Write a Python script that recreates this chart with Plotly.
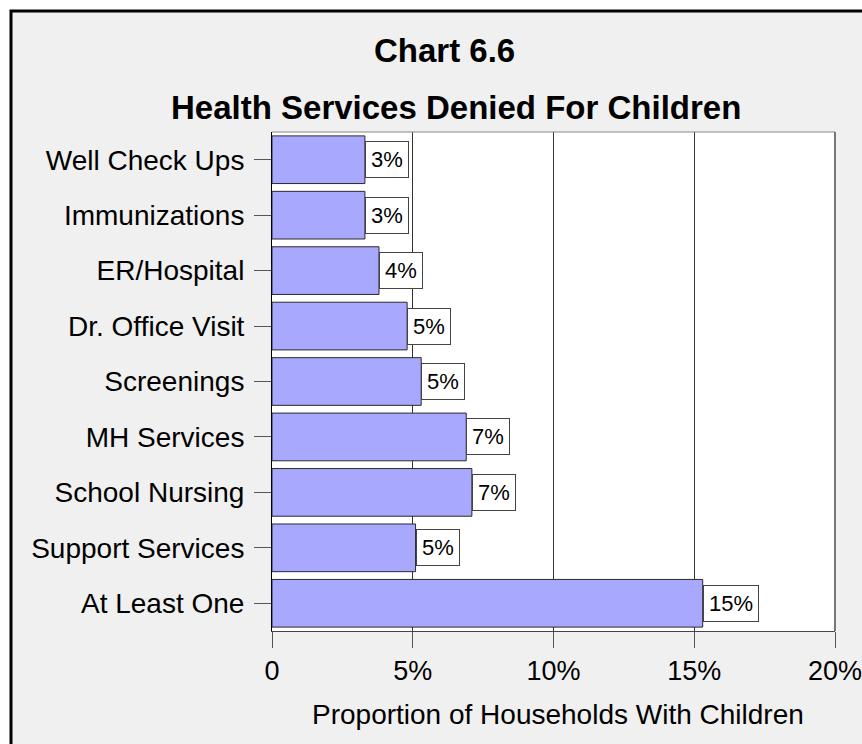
import plotly.graph_objects as go

# Survey results: share of households with children denied each health service (%)
categories = [
    "Well Check Ups",
    "Immunizations",
    "ER/Hospital",
    "Dr. Office Visit",
    "Screenings",
    "MH Services",
    "School Nursing",
    "Support Services",
    "At Least One",
]
percent_denied = [3.3, 3.3, 3.8, 4.8, 5.3, 6.9, 7.1, 5.1, 15.3]

x_tick_values = [0, 5, 10, 15, 20]
x_tick_labels = ["0", "5%", "10%", "15%", "20%"]

# Figure geometry (pixels)
W, H = 862, 744
ML, MR, MT, MB = 272, 27, 132, 113
PW, PH = W - ML - MR, H - MT - MB


def px_x(p):
    return (p - ML) / PW


def px_y(p):
    return (H - MB - p) / PH


FONT = "Arial, Liberation Sans, sans-serif"

fig = go.Figure()
fig.add_trace(
    go.Bar(
        x=percent_denied,
        y=categories,
        orientation="h",
        width=0.86,
        marker=dict(color="#a8a8ff", line=dict(color="#2a2a2a", width=1)),
        hoverinfo="skip",
    )
)

# Boxed value labels placed at the end of each bar
annotations = []
for cat, val in zip(categories, percent_denied):
    annotations.append(
        dict(
            x=val,
            y=cat,
            xref="x",
            yref="y",
            text=f"{round(val)}%",
            showarrow=False,
            xanchor="left",
            yanchor="middle",
            font=dict(family=FONT, size=22, color="#000"),
            bgcolor="#ffffff",
            bordercolor="#444444",
            borderwidth=1,
            borderpad=5,
        )
    )

# Titles
annotations.append(
    dict(
        x=px_x(444), y=px_y(50), xref="paper", yref="paper",
        text="<b>Chart 6.6</b>", showarrow=False,
        xanchor="center", yanchor="middle",
        font=dict(family=FONT, size=33, color="#000"),
    )
)
annotations.append(
    dict(
        x=px_x(456), y=px_y(107), xref="paper", yref="paper",
        text="<b>Health Services Denied For Children</b>", showarrow=False,
        xanchor="center", yanchor="middle",
        font=dict(family=FONT, size=33, color="#000"),
    )
)
annotations.append(
    dict(
        x=px_x(558), y=px_y(714), xref="paper", yref="paper",
        text="Proportion of Households With Children", showarrow=False,
        xanchor="center", yanchor="middle",
        font=dict(family=FONT, size=28, color="#000"),
    )
)

shapes = [
    # white margin outside the panel frame (left and top strips)
    dict(type="rect", xref="paper", yref="paper", layer="above",
         x0=px_x(-5), x1=px_x(10), y0=px_y(-5), y1=px_y(760),
         fillcolor="#ffffff", line=dict(width=0)),
    dict(type="rect", xref="paper", yref="paper", layer="above",
         x0=px_x(-5), x1=px_x(880), y0=px_y(-5), y1=px_y(10),
         fillcolor="#ffffff", line=dict(width=0)),
    # heavy black frame around the grey panel
    dict(type="rect", xref="paper", yref="paper", layer="above",
         x0=px_x(11), y0=px_y(11), x1=px_x(920), y1=px_y(800),
         line=dict(color="#000", width=3)),
    # top and right edges of the plot area
    dict(type="line", xref="paper", yref="paper", x0=0, x1=1, y0=1, y1=1,
         line=dict(color="#888888", width=1)),
    dict(type="line", xref="paper", yref="paper", x0=1, x1=1, y0=0, y1=1,
         line=dict(color="#777777", width=2)),
]

fig.update_layout(
    width=W,
    height=H,
    margin=dict(l=ML, r=MR, t=MT, b=MB, pad=0, autoexpand=False),
    paper_bgcolor="#f0f0f0",
    plot_bgcolor="#ffffff",
    showlegend=False,
    bargap=0.14,
    annotations=annotations,
    shapes=shapes,
    font=dict(family=FONT, color="#000"),
)

fig.update_xaxes(
    range=[0, 20],
    tickvals=x_tick_values,
    ticktext=x_tick_labels,
    ticks="outside",
    ticklen=16,
    tickwidth=1,
    tickcolor="#555555",
    tickfont=dict(family=FONT, size=27, color="#000"),
    ticklabeloverflow="allow",
    automargin=False,
    showgrid=True,
    gridcolor="#333333",
    gridwidth=1,
    showline=True,
    linecolor="#444444",
    linewidth=1,
    zeroline=False,
    fixedrange=True,
)

fig.update_yaxes(
    categoryorder="array",
    categoryarray=categories,
    autorange="reversed",
    ticks="outside",
    ticklen=17,
    tickwidth=1,
    tickcolor="#555555",
    ticklabelstandoff=4,
    tickfont=dict(family=FONT, size=28, color="#000"),
    automargin=False,
    showgrid=False,
    showline=True,
    linecolor="#000000",
    linewidth=1,
    zeroline=False,
    fixedrange=True,
)

fig.write_html("out.html", config={"displayModeBar": False})
